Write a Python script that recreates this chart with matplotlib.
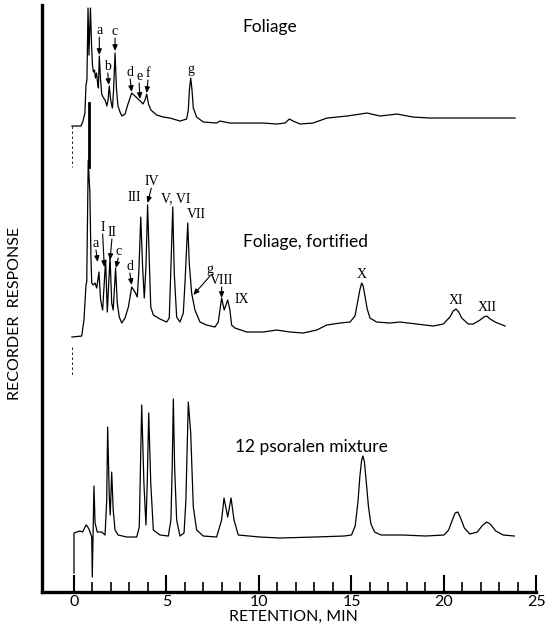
import matplotlib.pyplot as plt
import numpy as np

# ---- traces (retention min, recorder response) ----
foliage_t = [-0.11, 0.38, 0.49, 0.59, 0.65, 0.70, 0.76, 0.81, 0.89, 0.95, 1.00, 1.05, 1.11, 1.16,
             1.22, 1.27, 1.32, 1.37, 1.43, 1.50, 1.57, 1.68, 1.78, 1.84, 1.91, 1.97, 2.03, 2.08,
             2.14, 2.22, 2.30, 2.38, 2.49, 2.59, 2.76, 2.92, 3.12, 3.30, 3.46, 3.59, 3.73, 3.84,
             3.93, 4.03, 4.16, 4.47, 4.83, 5.19, 5.37, 5.73, 6.09, 6.18, 6.24, 6.31, 6.38, 6.45,
             6.63, 6.99, 7.71, 7.89, 8.43, 9.51, 10.23, 10.96, 11.41, 11.64, 11.84, 12.22, 12.92,
             13.68, 14.76, 15.84, 16.54, 17.46, 18.32, 19.24, 21.03, 22.86, 23.84]
foliage_r = [466, 466, 471, 479, 507, 512, 584, 537, 584, 547, 527, 520, 522, 514,
             519, 510, 504, 536, 514, 498, 495, 492, 486, 492, 506, 494, 488, 484,
             502, 539, 502, 486, 480, 476, 478, 488, 499, 496, 493, 491, 488, 492,
             498, 488, 482, 477, 475, 474, 473, 471, 473, 482, 502, 514, 502, 484,
             475, 470, 469, 471, 469, 469, 469, 468, 469, 473, 471, 468, 469,
             474, 476, 479, 476, 478, 475, 474, 474, 474, 474]

fortified_t = [-0.11, 0.42, 0.54, 0.65, 0.69, 0.77, 0.86, 0.92, 0.96, 1.04, 1.14, 1.23, 1.35,
               1.44, 1.55, 1.71, 1.80, 1.95, 2.04, 2.12, 2.25, 2.34, 2.45, 2.58, 2.76, 2.94,
               3.12, 3.30, 3.42, 3.51, 3.61, 3.71, 3.80, 3.89, 3.98, 4.07, 4.15, 4.29, 4.65,
               5.01, 5.15, 5.23, 5.34, 5.42, 5.55, 5.73, 5.91, 6.00, 6.15, 6.23, 6.36, 6.54,
               6.81, 7.17, 7.62, 7.80, 7.98, 8.12, 8.31, 8.43, 8.52, 8.70, 9.34, 10.23, 10.96,
               11.68, 12.39, 13.12, 13.66, 14.38, 14.92, 15.19, 15.30, 15.45, 15.55, 15.63,
               15.72, 15.85, 16.00, 16.36, 17.08, 17.62, 18.52, 19.42, 19.96, 20.32, 20.50,
               20.65, 20.80, 20.96, 21.31, 21.58, 21.95, 22.15, 22.31, 22.50, 22.76, 23.30]
fortified_r = [255, 256, 272, 307, 310, 432, 399, 332, 309, 307, 309, 304, 320,
               292, 282, 332, 280, 335, 289, 282, 324, 289, 275, 269, 274, 285,
               305, 300, 295, 322, 375, 325, 294, 325, 387, 332, 285, 277, 273,
               270, 274, 319, 385, 319, 275, 270, 279, 309, 369, 329, 299, 282,
               270, 267, 265, 270, 294, 282, 292, 282, 267, 264, 260, 260, 262,
               260, 259, 262, 267, 269, 270, 276, 287, 302, 309, 306,
               297, 283, 274, 270, 269, 270, 268, 266, 268, 275, 281,
               283, 280, 274, 268, 268, 272, 275, 276, 273, 270, 266]

mixture_t = [0.00, 0.00, 0.15, 0.32, 0.47, 0.65, 0.72, 0.83, 0.96, 0.99, 1.04, 1.08, 1.14,
             1.26, 1.50, 1.68, 1.77, 1.82, 1.91, 1.96, 2.04, 2.12, 2.22, 2.39, 2.85, 3.39,
             3.53, 3.66, 3.78, 3.89, 3.96, 4.04, 4.15, 4.29, 4.65, 5.10, 5.24, 5.31, 5.37,
             5.44, 5.55, 5.73, 5.95, 6.05, 6.18, 6.31, 6.45, 6.63, 6.99, 7.71, 7.98, 8.11,
             8.31, 8.49, 8.65, 8.88, 10.05, 11.14, 13.0, 14.6, 15.0, 15.2, 15.35, 15.45,
             15.55, 15.62, 15.70, 15.80, 15.92, 16.05, 16.25, 16.6, 17.8, 19.0, 20.0, 20.25,
             20.45, 20.6, 20.75, 20.9, 21.1, 21.4, 21.8, 22.05, 22.3, 22.5, 22.8, 23.2, 23.8]
mixture_r = [19, 59, 60, 61, 60, 67, 66, 62, 55, 15, 65, 106, 69,
             60, 60, 57, 92, 165, 95, 77, 120, 82, 62, 57, 55, 55,
             65, 187, 109, 67, 109, 179, 109, 62, 57, 56, 72, 125, 193,
             125, 72, 56, 59, 92, 190, 159, 85, 62, 56, 55, 72, 94,
             75, 94, 72, 57, 55, 54, 55, 56, 57, 66, 90, 115,
             132, 136, 130, 110, 85, 68, 60, 57, 57, 56, 57, 62,
             72, 79, 80, 74, 64, 58, 60, 66, 70, 68, 61, 57, 56]

# pen marks below the traces at injection / solvent front
foliage_spike_t = [0.80, 0.80]
foliage_spike_r = [489, 425]
foliage_start_t = [-0.11, -0.11]
foliage_start_r = [466, 425]
fortified_start_t = [-0.11, -0.11]
fortified_start_r = [245, 215]

# peak labels: text, peak (t, r)
foliage_labels = ['a', 'b', 'c', 'd', 'e', 'f', 'g']
foliage_peaks = [(1.37, 537), (1.88, 507), (2.22, 541), (3.12, 500), (3.57, 493), (3.93, 499), (6.31, 514)]
fortified_labels = ['a', 'I', 'II', 'c', 'd', 'III', 'IV', 'V, VI', 'VII', 'g', 'VIII', 'IX', 'X', 'XI', 'XII']
fortified_peaks = [(1.28, 330), (1.64, 325), (1.95, 332), (2.27, 324), (3.12, 307), (3.61, 375),
                   (3.98, 389), (5.34, 385), (6.15, 369), (6.45, 297), (7.98, 294), (8.31, 292),
                   (15.55, 309), (20.65, 283), (22.31, 276)]

fig = plt.figure(figsize=(5.45, 6.29), dpi=100)
ax = fig.add_axes([0.077, 0.0588, 0.923, 0.9332])

lw = 0.9
ax.plot(foliage_t, foliage_r, color='black', lw=lw)
ax.plot(fortified_t, fortified_r, color='black', lw=lw)
ax.plot(mixture_t, mixture_r, color='black', lw=lw)
ax.plot(foliage_spike_t, foliage_spike_r, color='black', lw=2.0)
ax.plot(foliage_start_t, foliage_start_r, color='black', lw=0.6, ls=(0, (3, 3)))
ax.plot(fortified_start_t, fortified_start_r, color='black', lw=0.6, ls=(0, (3, 3)))

serif = dict(family='Liberation Serif', fontsize=10, ha='center', va='bottom')
arr = dict(arrowstyle='-|>,head_length=0.35,head_width=0.15', color='black', lw=0.8,
           shrinkA=0, shrinkB=0)

# offsets of the label text from each peak (min, response)
fol_off = [(0, 18), (-0.05, 12), (0, 13), (-0.08, 13), (-0.05, 16), (0.07, 13), (0, 0)]
for lab, (pt, pr), (dt, dr) in zip(foliage_labels, foliage_peaks, fol_off):
    if lab == 'g':
        ax.text(pt, pr + 2, lab, **serif)
        continue
    ax.annotate('', xy=(pt, pr), xytext=(pt + dt, pr + dr), arrowprops=arr)
    ax.text(pt + dt, pr + dr, lab, **serif)

fort_off = [(-0.09, 12), (-0.09, 33), (0.1, 21), (0.12, 10), (-0.1, 12), (None, 13), (0.2, 15),
            (None, 2), (None, 2), (0.9, 19), (0, 11), (None, 0), (None, 2), (None, 2), (None, 2)]
for lab, (pt, pr), (dt, dr) in zip(fortified_labels, fortified_peaks, fort_off):
    if dt is None:
        if lab == 'IX':
            ax.text(pt + 0.35, pr - 6, lab, family='Liberation Serif', fontsize=10,
                    ha='left', va='bottom')
        elif lab == 'III':
            ax.text(pt - 0.35, pr + dr, lab, **serif)
        elif lab == 'V, VI':
            ax.text(pt + 0.15, pr + dr, lab, **serif)
        elif lab == 'VII':
            ax.text(pt + 0.45, pr + dr, lab, **serif)
        else:
            ax.text(pt, pr + dr, lab, **serif)
        continue
    ax.annotate('', xy=(pt, pr), xytext=(pt + dt, pr + dr), arrowprops=arr)
    ax.text(pt + dt, pr + dr, lab, **serif)

sans = dict(family=['Lato', 'DejaVu Sans'], fontsize=12.5, va='center', ha='left')
ax.text(9.08, 565, 'Foliage', **sans)
ax.text(9.14, 350, 'Foliage, fortified', **sans)
ax.text(8.7, 145, '12 psoralen mixture', **sans)

ax.set_xlim(-1.73, 25.46)
ax.set_ylim(0, 587)
ax.spines['top'].set_visible(False)
ax.spines['right'].set_visible(False)
ax.spines['left'].set_linewidth(2.4)
ax.spines['bottom'].set_linewidth(2.4)
ax.spines['bottom'].set_bounds(-1.73, 25)
ax.set_yticks([])
ax.set_xticks(np.arange(0, 26, 5))
ax.set_xticks(np.arange(0, 26, 1), minor=True)
ax.tick_params(axis='x', which='major', direction='in', length=12, width=1.5, pad=2,
               labelsize=11.5)
ax.tick_params(axis='x', which='minor', direction='in', length=7, width=1.2)
for lbl in ax.get_xticklabels():
    lbl.set_family(['Lato', 'DejaVu Sans'])

ax.set_xlabel('RETENTION, MIN', family=['Lato', 'DejaVu Sans'], fontsize=11.5, labelpad=1)
ax.set_ylabel('RECORDER  RESPONSE', family=['Lato', 'DejaVu Sans'], fontsize=11.5)
ax.yaxis.set_label_coords(-0.04, 0.475)

fig.savefig('out.png', dpi=100)
